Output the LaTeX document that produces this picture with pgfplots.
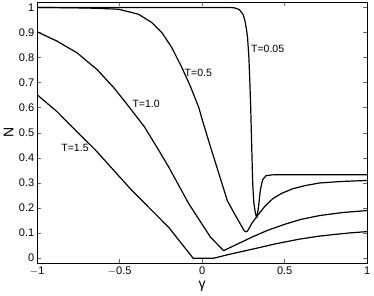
\documentclass[border=0pt]{standalone}
\usepackage{pgfplots}
\pgfplotsset{compat=1.18}
\usepackage{fontspec}
\setmainfont{Liberation Sans}
\begin{document}
\fontsize{11}{13}\selectfont
\begin{tikzpicture}
\begin{axis}[
  scale only axis,
  width=328bp, height=259bp,
  xmin=-1, xmax=1, ymin=-0.02, ymax=1.02,
  xtick={-1,-0.5,0,0.5,1},
  xticklabels={$-$1,$-$0.5,0,0.5,1},
  ytick={0,0.1,0.2,0.3,0.4,0.5,0.6,0.7,0.8,0.9,1},
  yticklabels={0,0.1,0.2,0.3,0.4,0.5,0.6,0.7,0.8,0.9,1},
  tick align=inside,
  major tick length=4bp,
  axis line style={line width=0.6pt},
  tick style={line width=0.5pt, black!60},
  ticklabel style={font=\fontsize{11}{13}\selectfont},
  xticklabel style={yshift=0bp},
  yticklabel style={xshift=1bp},
  /pgf/number format/assume math mode=true,
  xlabel={\fontsize{14}{16}\selectfont γ},
  ylabel={\fontsize{14}{16}\selectfont N},
  xlabel style={yshift=2bp},
  ylabel style={yshift=-2bp},
  no markers,
]
% T=0.05
\addplot[black, line width=1.2pt, line join=round] coordinates {(-1,1) (0.15,1) (0.193,0.999) (0.224,0.992) (0.248,0.972) (0.260,0.945) (0.268,0.913) (0.275,0.88) (0.283,0.80) (0.289,0.70) (0.294,0.60) (0.298,0.50) (0.302,0.40) (0.306,0.30) (0.313,0.22) (0.323,0.178) (0.331,0.161) (0.341,0.203) (0.352,0.27) (0.366,0.313) (0.387,0.329) (0.42,0.332) (0.448,0.333) (1,0.333)};
% T=0.5
\addplot[black, line width=1.2pt, line join=round] coordinates {(-1,1) (-0.8,0.999) (-0.65,0.997) (-0.507,0.993) (-0.386,0.973) (-0.305,0.94) (-0.244,0.90) (-0.183,0.839) (-0.122,0.759) (-0.071,0.685) (-0.020,0.600) (0.0,0.553) (0.05,0.445) (0.10,0.34) (0.152,0.23) (0.2,0.172) (0.254,0.110) (0.265,0.105) (0.275,0.108) (0.30,0.138) (0.335,0.170) (0.38,0.207) (0.427,0.237) (0.48,0.258) (0.549,0.277) (0.62,0.289) (0.712,0.30) (0.85,0.306) (1,0.31)};
% T=1.0
\addplot[black, line width=1.2pt, line join=round] coordinates {(-1,0.903) (-0.88,0.866) (-0.758,0.819) (-0.636,0.752) (-0.534,0.679) (-0.453,0.612) (-0.351,0.525) (-0.27,0.438) (-0.203,0.364) (-0.081,0.217) (0.051,0.083) (0.13,0.03) (0.2,0.052) (0.305,0.085) (0.4,0.112) (0.509,0.137) (0.6,0.155) (0.712,0.17) (0.85,0.182) (1,0.19)};
% T=1.5
\addplot[black, line width=1.2pt, line join=round] coordinates {(-1,0.652) (-0.88,0.585) (-0.758,0.504) (-0.646,0.431) (-0.427,0.271) (-0.203,0.123) (-0.055,0) (0.071,0) (0.15,0.013) (0.305,0.036) (0.45,0.058) (0.59,0.076) (0.7,0.087) (0.793,0.094) (0.9,0.101) (1,0.106)};
\node[anchor=west, inner sep=0pt, font=\fontsize{10.5}{12}\selectfont] at (axis cs:0.295,0.835) {T=0.05};
\node[anchor=west, inner sep=0pt, font=\fontsize{10.5}{12}\selectfont] at (axis cs:-0.107,0.741) {T=0.5};
\node[anchor=west, inner sep=0pt, font=\fontsize{10.5}{12}\selectfont] at (axis cs:-0.423,0.616) {T=1.0};
\node[anchor=west, inner sep=0pt, font=\fontsize{10.5}{12}\selectfont] at (axis cs:-0.854,0.439) {T=1.5};
\end{axis}
\end{tikzpicture}
\end{document}
